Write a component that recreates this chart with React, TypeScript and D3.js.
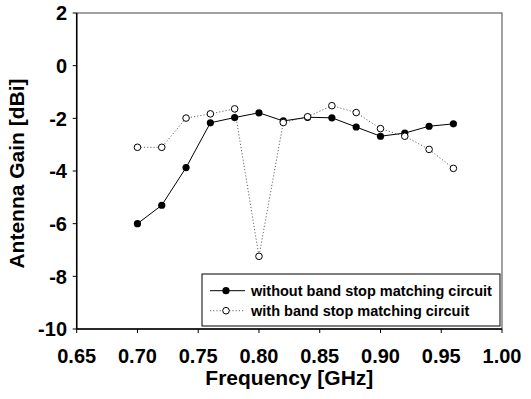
import React from "react";
import * as d3 from "d3";

const freqs = [0.70, 0.72, 0.74, 0.76, 0.78, 0.80, 0.82, 0.84, 0.86, 0.88, 0.90, 0.92, 0.94, 0.96];
const withoutBSM = [-6.0, -5.3, -3.87, -2.17, -1.97, -1.79, -2.1, -1.96, -1.98, -2.33, -2.68, -2.56, -2.3, -2.21];
const withBSM = [-3.1, -3.1, -1.99, -1.83, -1.64, -7.24, -2.16, -1.94, -1.52, -1.78, -2.39, -2.68, -3.18, -3.9];
const xTicks = [0.65, 0.70, 0.75, 0.80, 0.85, 0.90, 0.95, 1.00];
const yTicks = [2, 0, -2, -4, -6, -8, -10];
const seriesNames = ["without band stop matching circuit", "with band stop matching circuit"];

const W = 531, H = 399;
const L = 76.7, R = 502, T = 13, B = 329;
const font = "'Liberation Sans', Arial, sans-serif";

export default function App() {
  const x = d3.scaleLinear().domain([0.65, 1.0]).range([L, R]);
  const y = d3.scaleLinear().domain([-10, 2]).range([B, T]);
  const line = d3.line<number>().x((_, i) => x(freqs[i])).y((d) => y(d));

  return (
    <svg width={W} height={H} style={{ position: "absolute", left: 0, top: 0, background: "#fff" }}>
      <rect x={0} y={0} width={W} height={H} fill="#fff" />
      {/* frame */}
      <rect x={L} y={T} width={R - L} height={B - T} fill="none" stroke="#444" strokeWidth={1} />
      <line x1={L} x2={L} y1={T} y2={B} stroke="#000" strokeWidth={1.5} />
      <line x1={L} x2={R} y1={B} y2={B} stroke="#000" strokeWidth={1.5} />
      {/* y ticks */}
      {yTicks.map((t) => (
        <g key={"y" + t}>
          <line x1={L - 4} x2={L} y1={y(t)} y2={y(t)} stroke="#000" strokeWidth={1} />
          <text x={67} y={y(t)} dy="0.36em" textAnchor="end" fontFamily={font} fontWeight="bold" fontSize={20} fill="#000">
            {t}
          </text>
        </g>
      ))}
      {/* x ticks */}
      {xTicks.map((t) => (
        <g key={"x" + t}>
          <line x1={x(t)} x2={x(t)} y1={B} y2={B + 4} stroke="#000" strokeWidth={1} />
          <text x={x(t)} y={363} textAnchor="middle" fontFamily={font} fontWeight="bold" fontSize={20} fill="#000">
            {t.toFixed(2)}
          </text>
        </g>
      ))}
      <text x={(L + R) / 2} y={385} textAnchor="middle" fontFamily={font} fontWeight="bold" fontSize={21} fill="#000">
        Frequency [GHz]
      </text>
      <text
        transform={`translate(24,${173.5}) rotate(-90)`}
        textAnchor="middle"
        fontFamily={font}
        fontWeight="bold"
        fontSize={21}
        fill="#000"
      >
        Antenna Gain [dBi]
      </text>
      {/* series */}
      <path d={line(withBSM) || ""} fill="none" stroke="#666" strokeWidth={1} strokeDasharray="1.2,2" />
      <path d={line(withoutBSM) || ""} fill="none" stroke="#000" strokeWidth={1} />
      {withoutBSM.map((v, i) => (
        <circle key={"a" + i} cx={x(freqs[i])} cy={y(v)} r={3.6} fill="#000" />
      ))}
      {withBSM.map((v, i) => (
        <circle key={"b" + i} cx={x(freqs[i])} cy={y(v)} r={3.3} fill="#fff" stroke="#000" strokeWidth={1} />
      ))}
      {/* legend */}
      <rect x={202} y={274} width={298} height={52} fill="#fff" stroke="#000" strokeWidth={1} />
      <line x1={210} x2={245} y1={290.7} y2={290.7} stroke="#000" strokeWidth={1} />
      <circle cx={226} cy={290.7} r={3.6} fill="#000" />
      <text x={251} y={290.7} dy="0.36em" fontFamily={font} fontWeight="bold" fontSize={14.5} fill="#000">
        {seriesNames[0]}
      </text>
      <line x1={210} x2={245} y1={310.7} y2={310.7} stroke="#666" strokeWidth={1} strokeDasharray="1.2,2" />
      <circle cx={226} cy={310.7} r={3.3} fill="#fff" stroke="#000" strokeWidth={1} />
      <text x={251} y={310.7} dy="0.36em" fontFamily={font} fontWeight="bold" fontSize={14.5} fill="#000">
        {seriesNames[1]}
      </text>
    </svg>
  );
}
